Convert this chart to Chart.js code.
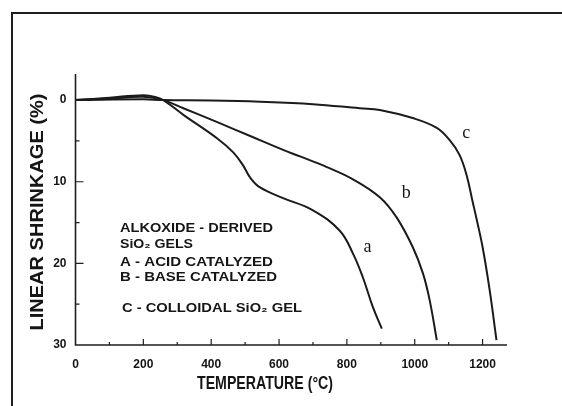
<!DOCTYPE html>
<html>
<head>
<meta charset="utf-8">
<script src="https://cdn.jsdelivr.net/npm/chart.js@4"></script>
<style>
  html, body { margin: 0; padding: 0; background: #fff; }
  #wrap { width: 562px; height: 406px; }
</style>
</head>
<body>
<div id="wrap"><canvas id="shrinkChart" width="562" height="406"></canvas></div>
<script>
// Data (temperature in degC, linear shrinkage in %)
const aTemp    = [0, 100, 200, 235, 259, 318, 418, 465, 494, 515, 544, 612, 700, 779, 818, 847, 877, 903];
const aShrink  = [0, -0.3, -0.6, -0.4, 0, 1.8, 4.7, 6.4, 8.0, 9.5, 10.7, 12.0, 13.5, 16.0, 18.8, 21.7, 25.4, 28.0];

const bTemp    = [0, 100, 200, 259, 318, 418, 515, 612, 662, 741, 818, 897, 947, 994, 1024, 1044, 1065];
const bShrink  = [0, -0.2, -0.4, 0, 1.0, 2.7, 4.4, 6.1, 6.9, 8.2, 9.7, 11.9, 14.4, 18.0, 21.2, 24.5, 29.4];

const cTemp    = [0, 200, 259, 400, 544, 700, 838, 897, 994, 1065, 1103, 1132, 1153, 1171, 1182, 1200, 1221, 1241];
const cShrink  = [0, -0.1, 0, 0.05, 0.2, 0.5, 1.0, 1.2, 2.2, 3.4, 4.9, 6.7, 9.2, 12.5, 14.5, 18.0, 23.3, 29.4];

const xTickLabels = [0, 200, 400, 600, 800, 1000, 1200];
const yTickLabels = [0, 10, 20, 30];

const curveNames = ['a', 'b', 'c'];
const noteLines = ['ALKOXIDE - DERIVED', 'SiO\u2082 GELS', 'A - ACID CATALYZED', 'B - BASE CATALYZED', 'C - COLLOIDAL SiO\u2082 GEL'];

// Layout of the free text (not data)
const curveLabelPos = [[861, 18.0], [975, 11.4], [1152, 4.0]];
const notePos = [[120, 228, 153], [120, 244, 73], [120, 262, 153], [120, 277, 157], [122, 308, 180]];

function toPoints(xs, ys) {
    return xs.map((x, i) => ({ x: x, y: ys[i] }));
}

function series(xs, ys) {
    return {
        data: toPoints(xs, ys),
        borderColor: '#1b1b1b',
        borderWidth: 2,
        pointRadius: 0,
        fill: false,
        tension: 0.4
    };
}

// draw text squeezed/stretched to a target width
function fitText(ctx, text, x, y, w, size, angle, align, family) {
    ctx.save();
    ctx.font = (family ? '' : 'bold ') + size + 'px ' + (family || '"Liberation Sans", Arial, sans-serif');
    const m = ctx.measureText(text).width;
    ctx.translate(x, y);
    ctx.rotate(angle);
    ctx.scale(w / m, 1);
    ctx.textAlign = align;
    ctx.textBaseline = 'middle';
    ctx.fillText(text, 0, 0);
    ctx.restore();
}

const decorPlugin = {
    id: 'decor',
    afterDraw(chart) {
        const ctx = chart.ctx;
        const xs = chart.scales.x, ys = chart.scales.y;
        const area = chart.chartArea;
        ctx.save();
        ctx.strokeStyle = '#1e1e1e';
        ctx.fillStyle = '#151515';

        // page frame
        ctx.lineWidth = 2;
        ctx.beginPath();
        ctx.moveTo(12, 406);
        ctx.lineTo(12, 13);
        ctx.lineTo(562, 13);
        ctx.stroke();

        // axes
        ctx.lineWidth = 1.6;
        ctx.beginPath();
        ctx.moveTo(area.left, area.top);
        ctx.lineTo(area.left, area.bottom);
        ctx.lineTo(area.right, area.bottom);
        ctx.stroke();

        // inward tick marks
        ctx.lineWidth = 1.2;
        ctx.beginPath();
        xs.ticks.forEach(t => {
            if (t.value <= 0 || t.value > 1200) return;
            const px = xs.getPixelForValue(t.value);
            const len = t.value % 200 === 0 ? 6 : 3;
            ctx.moveTo(px, area.bottom);
            ctx.lineTo(px, area.bottom - len);
        });
        ys.ticks.forEach(t => {
            if (t.value <= 0 || t.value >= 30) return;
            const py = ys.getPixelForValue(t.value);
            const len = t.value % 10 === 0 ? 8 : 4;
            ctx.moveTo(area.left, py);
            ctx.lineTo(area.left + len, py);
        });
        ctx.stroke();

        // axis titles
        fitText(ctx, 'LINEAR SHRINKAGE (%)', 38.5, 212, 237, 18, -Math.PI / 2, 'center');
        fitText(ctx, 'TEMPERATURE (\u00b0C)', 265, 384, 136, 18, 0, 'center');

        // curve letters
        curveNames.forEach((n, i) => {
            const p = curveLabelPos[i];
            ctx.font = '18px "Liberation Serif", "Times New Roman", serif';
            ctx.textAlign = 'center';
            ctx.textBaseline = 'middle';
            ctx.fillText(n, xs.getPixelForValue(p[0]), ys.getPixelForValue(p[1]));
        });

        // legend text block
        noteLines.forEach((s, i) => {
            const p = notePos[i];
            fitText(ctx, s, p[0], p[1], p[2], 13, 0, 'left');
        });
        ctx.restore();
    }
};

const ctx = document.getElementById('shrinkChart').getContext('2d');
const chart = new Chart(ctx, {
    type: 'line',
    data: {
        datasets: [series(aTemp, aShrink), series(bTemp, bShrink), series(cTemp, cShrink)]
    },
    options: {
        responsive: false,
        animation: false,
        layout: { padding: { left: 0, top: 74, right: 55, bottom: 0 } },
        plugins: { legend: { display: false }, tooltip: { enabled: false } },
        scales: {
            x: {
                type: 'linear',
                min: 0,
                max: 1272,
                border: { display: false },
                grid: { display: false, drawTicks: false },
                afterFit(scale) { scale.height = 61; },
                ticks: {
                    stepSize: 100,
                    includeBounds: false,
                    padding: 12,
                    maxRotation: 0,
                    autoSkip: false,
                    color: '#151515',
                    font: { family: '"Liberation Sans", Arial, sans-serif', size: 12, weight: 'bold' },
                    callback: v => xTickLabels.includes(v) ? String(v) : ''
                }
            },
            y: {
                type: 'linear',
                reverse: true,
                min: -3.2,
                max: 30,
                border: { display: false },
                grid: { display: false, drawTicks: false },
                afterFit(scale) { scale.width = 75.5; },
                ticks: {
                    stepSize: 5,
                    includeBounds: false,
                    padding: 9,
                    autoSkip: false,
                    color: '#151515',
                    font: { family: '"Liberation Sans", Arial, sans-serif', size: 12, weight: 'bold' },
                    callback: v => yTickLabels.includes(v) ? String(v) : ''
                }
            }
        }
    },
    plugins: [decorPlugin]
});
</script>
</body>
</html>
